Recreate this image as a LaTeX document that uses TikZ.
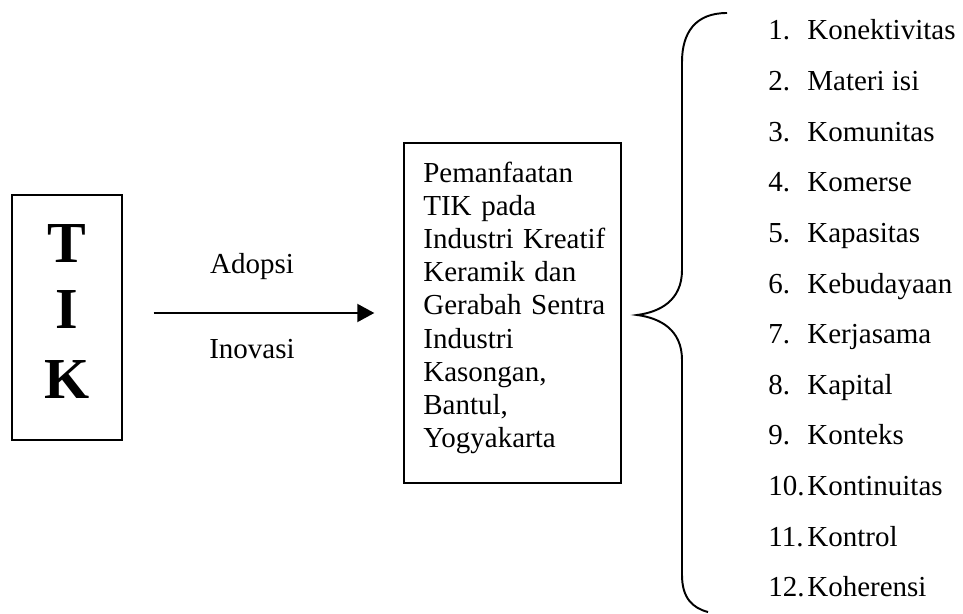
\documentclass[tikz,border=0pt]{standalone}
\usepackage{fontspec}
\setmainfont{Liberation Serif}
\usetikzlibrary{positioning,arrows.meta}

\begin{document}
\begin{tikzpicture}[
  kotak/.style={draw, line width=0.8pt, inner sep=0pt},
  huruf/.style={font=\fontsize{33}{38}\selectfont\bfseries, anchor=base, inner sep=0pt},
  teks/.style={font=\fontsize{16.5}{18.9}\selectfont, inner sep=0pt},
  butir/.style={font=\fontsize{16.5}{19}\selectfont, anchor=base west, inner sep=0pt},
  panah/.style={line width=1.1pt, -{Triangle[length=0.34cm,width=0.36cm]}}
]
\useasboundingbox (0,0) rectangle (19.26,12.26);
% kotak TIK
\node[kotak, minimum width=2.2cm, minimum height=4.9cm] (tik) at (1.34,5.91) {};
\node[huruf] (t) at (1.34,7.02) {T};
\node[huruf] (i) at (1.34,5.70) {I};
\node[huruf] (k) at (1.34,4.30) {K};
% kotak tengah
\node[kotak, minimum width=4.34cm, minimum height=6.8cm] (ctx) at (10.25,6.0) {};
\node[teks, text width=3.8cm, align=left, anchor=base west] (isi) at (8.46,8.62)
  {Pemanfaatan\\TIK pada\\Industri Kreatif\\Keramik dan\\Gerabah Sentra\\Industri\\Kasongan,\\Bantul,\\Yogyakarta};
% panah
\draw[panah] ([xshift=0.62cm]tik.east |- ctx.west) -- ([xshift=-0.58cm]ctx.west);
\node[teks, anchor=base] (adopsi) at (5.04,6.8) {Adopsi};
\node[teks, anchor=base] (inovasi) at (5.04,5.1) {Inovasi};
% kurung kurawal
\draw[line width=1.1pt] (14.54,12.0) .. controls (13.9,12.0) and (13.64,11.6) .. (13.64,11.02)
  -- (13.64,6.86) .. controls (13.64,6.25) and (13.2,6.02) .. (12.74,5.96)
  .. controls (13.2,5.9) and (13.64,5.67) .. (13.64,5.06)
  -- (13.64,0.76) .. controls (13.64,0.3) and (13.85,0.1) .. (14.16,0.02);
% daftar
\node[butir] (b1) at (15.36,11.46) {\makebox[0.78cm][l]{1.}Konektivitas};
\node[butir] (b2) at (15.36,10.448) {\makebox[0.78cm][l]{2.}Materi isi};
\node[butir] (b3) at (15.36,9.436) {\makebox[0.78cm][l]{3.}Komunitas};
\node[butir] (b4) at (15.36,8.424) {\makebox[0.78cm][l]{4.}Komerse};
\node[butir] (b5) at (15.36,7.412) {\makebox[0.78cm][l]{5.}Kapasitas};
\node[butir] (b6) at (15.36,6.40) {\makebox[0.78cm][l]{6.}Kebudayaan};
\node[butir] (b7) at (15.36,5.388) {\makebox[0.78cm][l]{7.}Kerjasama};
\node[butir] (b8) at (15.36,4.376) {\makebox[0.78cm][l]{8.}Kapital};
\node[butir] (b9) at (15.36,3.364) {\makebox[0.78cm][l]{9.}Konteks};
\node[butir] (b10) at (15.36,2.352) {\makebox[0.78cm][l]{10.}Kontinuitas};
\node[butir] (b11) at (15.36,1.34) {\makebox[0.78cm][l]{11.}Kontrol};
\node[butir] (b12) at (15.36,0.328) {\makebox[0.78cm][l]{12.}Koherensi};
\end{tikzpicture}
\end{document}
